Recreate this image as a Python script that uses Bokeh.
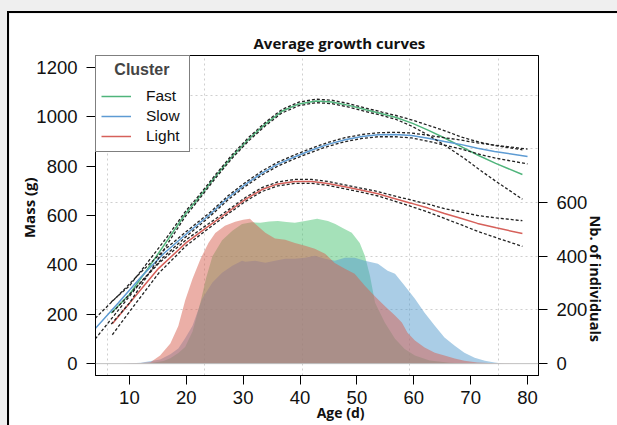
import math
from bokeh.plotting import figure
from bokeh.models import (Range1d, LinearAxis, FixedTicker, Legend, LegendItem,
                          Span, Grid)
from bokeh.embed import file_html
from bokeh.resources import INLINE

# ---------------- data ----------------
x_ticks = [10, 20, 30, 40, 50, 60, 70, 80]
mass_ticks = [0, 200, 400, 600, 800, 1000, 1200]
count_ticks = [0, 200, 400, 600]
grid_x = [6.1, 23.2, 40.4, 59.3, 74.9]
grid_count = [200, 400, 600, 800, 1000]

# growth curves (mass, g) and half-width of the confidence band
fast_age = [6.8, 10, 13.7, 16.7, 19.8, 22.3, 25.2, 28.1, 31.0, 34.0, 36.8, 39.8, 42.8,
            45.6, 48.6, 51.6, 54.4, 56.9, 59.8, 62.6, 65.6, 68.6, 71.4, 74.4, 79.1]
fast_mass = [205, 280, 400, 500, 605, 675, 760, 840, 910, 972, 1022, 1052, 1064,
             1060, 1046, 1028, 1012, 997, 973, 945, 912, 876, 843, 811, 766]
fast_hw = [45, 35, 25, 15, 10, 8, 7, 7, 7, 7, 7, 7, 7,
           7, 7, 7, 7, 8, 13, 20, 30, 40, 55, 72, 100]

slow_age = [4.0, 8, 12, 16, 20, 24.2, 27.4, 30.4, 33.3, 36.1, 39.1, 42.1, 44.9,
            47.9, 50.9, 53.7, 56.7, 59.6, 62.5, 65.4, 68.4, 71.2, 74.2, 80.0]
slow_mass = [142, 245, 350, 445, 525, 605, 673, 726, 772, 808, 838, 865, 888,
             907, 920, 927, 928, 924, 913, 900, 887, 872, 859, 839]
slow_hw = [42, 30, 20, 13, 10, 8, 8, 8, 8, 8, 8, 8, 8,
           8, 8, 8, 9, 10, 12, 15, 18, 22, 26, 30]

light_age = [7.0, 10, 15.1, 20, 23.5, 26.5, 30.4, 33.3, 36.1, 39.1, 42.1, 44.9,
             47.9, 50.9, 53.7, 56.1, 59.5, 62.5, 65.4, 68.4, 71.2, 74.5, 79.1]
light_mass = [162, 245, 385, 490, 550, 600, 665, 705, 728, 738, 738, 730,
              716, 702, 688, 672, 650, 630, 608, 588, 568, 550, 527]
light_hw = [45, 35, 20, 12, 10, 8, 8, 8, 8, 8, 8, 8,
            8, 8, 9, 10, 13, 16, 20, 26, 32, 40, 52]

# number of individuals per age (densities)
fast_n_age = [12, 14, 16, 17.2, 18.6, 19.8, 21.1, 22.5, 23.5, 24.6, 26.3, 28.1, 29.8,
              31.5, 33.0, 34.6, 36.1, 37.6, 39.1, 40.9, 43.0, 44.9, 46.2, 47.4, 49.1,
              50.5, 51.4, 52.3, 53.2, 54.9, 56.7, 58.4, 60.2, 62.8, 66.3, 70]
fast_n = [0, 3, 10, 20, 40, 62, 120, 230, 320, 400, 460, 495, 520,
          527, 525, 530, 532, 528, 525, 532, 540, 532, 520, 506, 488,
          450, 402, 328, 227, 153, 93, 55, 30, 12, 3, 0]

slow_n_age = [9, 12, 15.4, 17.2, 18.6, 19.8, 21.1, 22.8, 24.6, 26.3, 28.1, 29.8, 30.4,
              32.1, 33.9, 35.6, 37.4, 39.1, 40.9, 42.6, 44.4, 46.1, 47.9, 49.6, 51.4,
              53.7, 55.4, 56.7, 58.4, 60.2, 61.9, 63.7, 65.4, 67.2, 68.9, 70.7, 72.5,
              74.2, 76.0]
slow_n = [0, 3, 15, 35, 56, 95, 141, 242, 302, 339, 365, 383, 380,
          383, 376, 383, 391, 391, 395, 402, 391, 383, 395, 395, 383,
          372, 346, 335, 290, 242, 190, 141, 97, 67, 41, 22, 11,
          4, 0]

light_n_age = [8, 12, 13.7, 15.4, 17.2, 18.6, 19.8, 21.1, 22.5, 23.9, 25.1, 26.8, 28.6,
               30.0, 31.2, 32.1, 33.9, 35.6, 37.4, 39.1, 40.9, 42.6, 44.4, 46.1, 47.9,
               49.6, 51.4, 53.2, 54.9, 56.7, 57.9, 58.9, 60.2, 61.9, 63.7, 65.4, 67.2,
               68.9, 71.2, 74.2, 79]
light_n = [0, 2, 5, 30, 75, 140, 235, 316, 390, 450, 487, 514, 529,
           536, 540, 521, 488, 466, 462, 450, 439, 428, 410, 375, 354,
           335, 290, 250, 215, 179, 153, 115, 86, 60, 41, 30, 19,
           11, 4, 1, 0]

clusters = ["Fast", "Slow", "Light"]
line_colors = {"Fast": "#4fb47b", "Slow": "#5d9bd3", "Light": "#d6605a"}
fill_colors = {"Fast": "#4bc373", "Slow": "#559bcd", "Light": "#d75f50"}

NBSP = "\u00a0"

# ---------------- figure ----------------
p = figure(width=608, height=412, output_backend="svg", toolbar_location=None,
           x_range=Range1d(4.04, 81.93), y_range=Range1d(-48, 1248),
           min_border_left=86, min_border_right=78, min_border_top=42,
           min_border_bottom=50, background_fill_color="white",
           border_fill_color="white")
p.extra_y_ranges = {"count": Range1d(-44.2, 1148.4)}
p.outline_line_color = "black"
p.outline_line_width = 1

# title
p.title.text = "Average growth curves"
p.title.align = "left"
p.title.offset = 158
p.title.standoff = 5
p.title.text_font = "Open Sans"
p.title.text_font_style = "bold"
p.title.text_font_size = "15px"
p.title.text_color = "#111111"

# grids
p.xgrid.ticker = FixedTicker(ticks=grid_x)
p.xgrid.grid_line_color = "#cfcfcf"
p.xgrid.grid_line_dash = "2 3"
p.ygrid.visible = False
hgrid = Grid(dimension=1, ticker=FixedTicker(ticks=grid_count), y_range_name="count",
             grid_line_color="#cfcfcf", grid_line_dash="2 3")
p.add_layout(hgrid)

# axes
right_axis = LinearAxis(y_range_name="count", ticker=FixedTicker(ticks=count_ticks))
p.add_layout(right_axis, "right")
p.xaxis.ticker = FixedTicker(ticks=x_ticks)
p.yaxis[0].ticker = FixedTicker(ticks=mass_ticks)
for ax in [p.xaxis[0], p.yaxis[0], right_axis]:
    ax.major_tick_in = 0
    ax.major_tick_out = 9
    ax.minor_tick_in = 0
    ax.minor_tick_out = 0
    ax.axis_line_color = "black"
    ax.major_tick_line_color = "black"
    ax.major_label_text_font = "Liberation Sans"
    ax.major_label_text_font_size = "18.5px"
    ax.major_label_text_color = "#111111"
    ax.major_label_standoff = 9
    ax.axis_label_text_font = "Open Sans"
    ax.axis_label_text_font_style = "bold"
    ax.axis_label_text_color = "#111111"
p.xaxis[0].major_label_standoff = 6

p.xaxis[0].axis_label = NBSP * 13 + "Age (d)"
p.xaxis[0].axis_label_text_font_size = "14px"
p.xaxis[0].axis_label_standoff = -4

p.yaxis[0].axis_label = NBSP * 4 + "Mass (g)"
p.yaxis[0].axis_label_text_font_size = "15px"
p.yaxis[0].axis_label_standoff = -6

right_axis.axis_label = "Nb. of individuals" + NBSP * 33
right_axis.axis_label_text_font_size = "14.5px"
right_axis.axis_label_standoff = 5
try:
    right_axis.axis_label_orientation = -math.pi / 2
except Exception:
    pass

# densities (counts on right axis)
p.varea(x=fast_n_age, y1=0, y2=fast_n, fill_color=fill_colors["Fast"], fill_alpha=0.5,
        y_range_name="count")
p.varea(x=slow_n_age, y1=0, y2=slow_n, fill_color=fill_colors["Slow"], fill_alpha=0.5,
        y_range_name="count")
p.varea(x=light_n_age, y1=0, y2=light_n, fill_color=fill_colors["Light"], fill_alpha=0.5,
        y_range_name="count")
p.add_layout(Span(location=0, dimension="width", y_range_name="count",
                  line_color="#c0c0c0", line_width=1))

# growth curves
curves = {
    "Fast": (fast_age, fast_mass, fast_hw),
    "Slow": (slow_age, slow_mass, slow_hw),
    "Light": (light_age, light_mass, light_hw),
}
renderers = {}
for name in clusters:
    ages, mass, hw = curves[name]
    renderers[name] = p.line(ages, mass, line_color=line_colors[name], line_width=1.5)
for name in clusters:
    ages, mass, hw = curves[name]
    upper = [m + h for m, h in zip(mass, hw)]
    lower = [m - h for m, h in zip(mass, hw)]
    p.line(ages, upper, line_color="#222222", line_width=1.3, line_dash="3 2")
    p.line(ages, lower, line_color="#222222", line_width=1.3, line_dash="3 2")

# legend
legend = Legend(items=[LegendItem(label=n, renderers=[renderers[n]]) for n in clusters],
                location="top_left", title=NBSP * 3 + "Cluster")
legend.margin = 0
legend.padding = 5
legend.spacing = 0
legend.border_line_color = "black"
legend.border_line_width = 1
legend.background_fill_color = "white"
legend.background_fill_alpha = 1
legend.glyph_width = 30
legend.glyph_height = 20
legend.label_height = 20
legend.label_width = 38
legend.label_standoff = 15
legend.title_standoff = 7
legend.title_text_font = "Liberation Sans"
legend.title_text_font_style = "bold"
legend.title_text_font_size = "16px"
legend.label_text_font = "Liberation Sans"
legend.label_text_font_size = "15.5px"
legend.label_text_color = "#111111"
p.add_layout(legend)

# page look: grey surround with a black frame line around the chart
p.styles = {"outline": "2px solid black"}
try:
    from bokeh.models import GlobalInlineStyleSheet
    p.stylesheets = [GlobalInlineStyleSheet(
        css="html, body { background: #efefef; } "
            "body { padding: 13px 0 0 9px !important; margin: 0 !important; }")]
except Exception:
    pass

open("out.html", "w").write(file_html(p, INLINE))
